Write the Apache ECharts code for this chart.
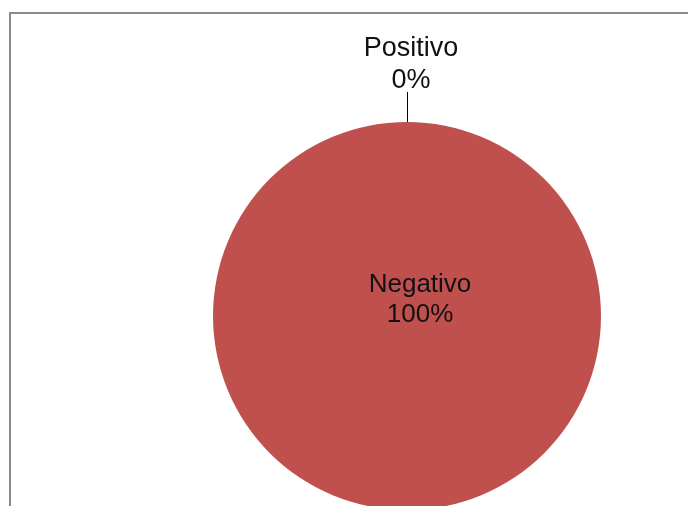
<!DOCTYPE html>
<html>
<head>
<meta charset="utf-8">
<script src="https://cdn.jsdelivr.net/npm/echarts@6/dist/echarts.min.js"></script>
<style>
html,body{margin:0;padding:0;background:#fff;}
#chart{width:688px;height:506px;}
</style>
</head>
<body>
<div id="chart"></div>
<script>
var categories = ['Positivo', 'Negativo'];
var values = [0, 100];
var colors = ['#4F81BD', '#C0504D'];

var chart = echarts.init(document.getElementById('chart'), null, {renderer: 'canvas'});

var data = categories.map(function (name, i) {
  var item = {name: name, value: values[i], itemStyle: {color: colors[i]}};
  if (name === 'Negativo') {
    item.label = {position: 'center', fontSize: 26, lineHeight: 30};
    item.labelLine = {show: false};
  }
  return item;
});

var option = {
  animation: false,
  backgroundColor: '#ffffff',
  graphic: [{
    type: 'polyline',
    shape: {points: [[10, 520], [10, 13], [700, 13]]},
    style: {stroke: '#8a8a8a', lineWidth: 2, fill: null},
    silent: true
  }],
  series: [{
    type: 'pie',
    center: [407, 316],
    radius: 194,
    startAngle: 90,
    clockwise: true,
    avoidLabelOverlap: false,
    itemStyle: {borderWidth: 0},
    label: {
      show: true,
      position: 'outside',
      formatter: '{b}\n{d}%',
      fontFamily: 'Liberation Sans, Arial, sans-serif',
      fontSize: 27,
      lineHeight: 32,
      color: '#111111'
    },
    labelLine: {
      show: true,
      length: 30,
      length2: 0,
      smooth: false,
      lineStyle: {color: '#000000', width: 1}
    },
    labelLayout: function (params) {
      if (params.dataIndex === 0 && params.labelLinePoints) {
        var p0 = params.labelLinePoints[0];
        var top = [p0[0] + 0.5, p0[1] - 30];
        return {
          x: p0[0] + 4,
          y: p0[1] - 25,
          align: 'center',
          verticalAlign: 'bottom',
          labelLinePoints: [[p0[0] + 0.5, p0[1]], top, top]
        };
      }
      if (params.dataIndex === 1) {
        return {dx: 13, dy: -16};
      }
      return {};
    },
    data: data
  }]
};
chart.setOption(option);
</script>
</body>
</html>
